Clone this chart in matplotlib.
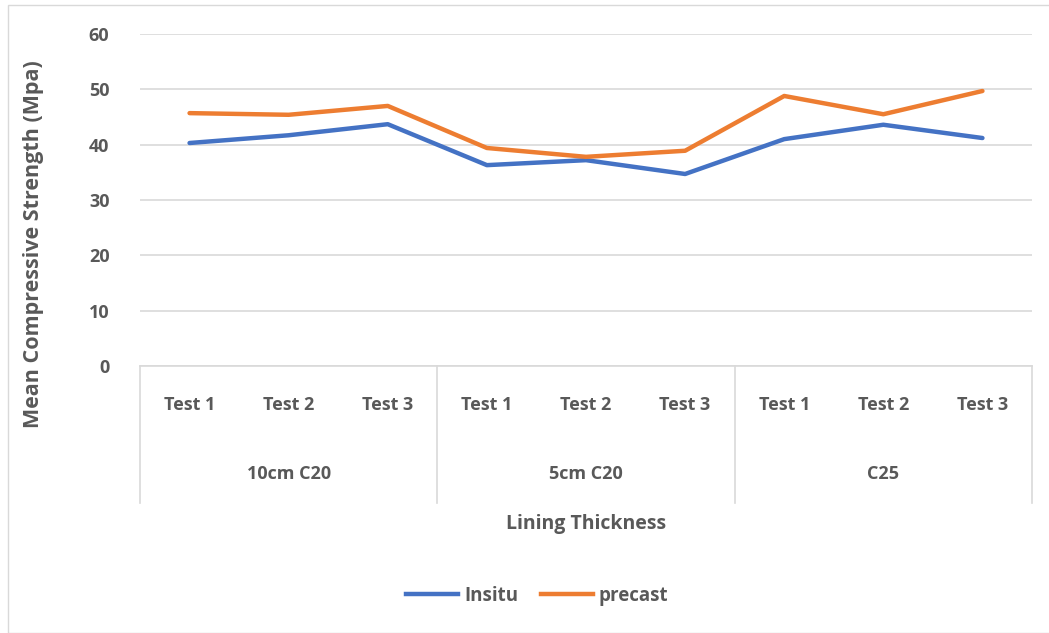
import matplotlib.pyplot as plt
from matplotlib.patches import Rectangle
from matplotlib.lines import Line2D

# Data
groups = ['10cm C20', '5cm C20', 'C25']
tests = ['Test 1', 'Test 2', 'Test 3']
insitu = [40.3, 41.7, 43.7, 36.3, 37.2, 34.7, 41.0, 43.6, 41.2]
precast = [45.7, 45.4, 47.0, 39.4, 37.8, 38.9, 48.8, 45.5, 49.7]

plt.rcParams['font.family'] = ['Open Sans', 'DejaVu Sans']
txt = '#595959'
grid = '#d9d9d9'

fig = plt.figure(figsize=(10.49, 6.33), dpi=100)
fig.patches.append(Rectangle((8 / 1049, 0), 1.0, 1 - 5 / 633, transform=fig.transFigure,
                             fill=False, edgecolor=grid, linewidth=1))
ax = fig.add_axes([140 / 1049, 1 - 366 / 633, 892 / 1049, 332 / 633])

x = list(range(len(insitu)))
ax.plot(x, insitu, color='#4472c4', linewidth=3.2, solid_capstyle='round', label='Insitu')
ax.plot(x, precast, color='#ed7d31', linewidth=3.2, solid_capstyle='round', label='precast')

ax.set_xlim(-0.5, len(x) - 0.5)
ax.set_ylim(0, 60)
ax.set_yticks(range(0, 61, 10))
ax.set_yticklabels([str(v) for v in range(0, 61, 10)], fontsize=13, fontweight='bold', color=txt)
ax.tick_params(axis='y', length=0, pad=22)
ax.set_xticks([])
ax.grid(axis='y', color=grid, linewidth=1.2)
ax.set_axisbelow(True)
for s in ['top', 'right', 'left']:
    ax.spines[s].set_visible(False)
ax.spines['bottom'].set_color(grid)
ax.spines['bottom'].set_linewidth(1.2)

# category labels under the axis
trans = ax.get_xaxis_transform()
for i, t in enumerate(tests * len(groups)):
    ax.text(i, -0.117, t, transform=trans, ha='center', va='center',
            fontsize=13, fontweight='bold', color=txt)
for g, name in enumerate(groups):
    ax.text(g * 3 + 1, -0.325, name, transform=trans, ha='center', va='center',
            fontsize=13, fontweight='bold', color=txt)
for g in range(len(groups) + 1):
    ax.plot([g * 3 - 0.5] * 2, [0, -0.413], transform=trans, color=grid,
            linewidth=1.2, clip_on=False)

ax.text(0.5, -0.476, 'Lining Thickness', transform=ax.transAxes, ha='center', va='center',
        fontsize=14, fontweight='bold', color=txt)
ax.set_ylabel('Mean Compressive Strength (Mpa)', fontsize=15.5, fontweight='bold', color=txt)
ax.yaxis.set_label_coords(-0.108, 0.367)

handles = [Line2D([], [], color='#4472c4', linewidth=3.2),
           Line2D([], [], color='#ed7d31', linewidth=3.2)]
leg = fig.legend(handles, ['Insitu', 'precast'], loc='center', bbox_to_anchor=(537 / 1049, 1 - 596 / 633),
                 ncol=2, frameon=False, handlelength=2.8, columnspacing=1.2, handletextpad=0.3,
                 prop={'size': 13.5, 'weight': 'bold'})
for t in leg.get_texts():
    t.set_color(txt)

fig.savefig('out.png', dpi=100)
